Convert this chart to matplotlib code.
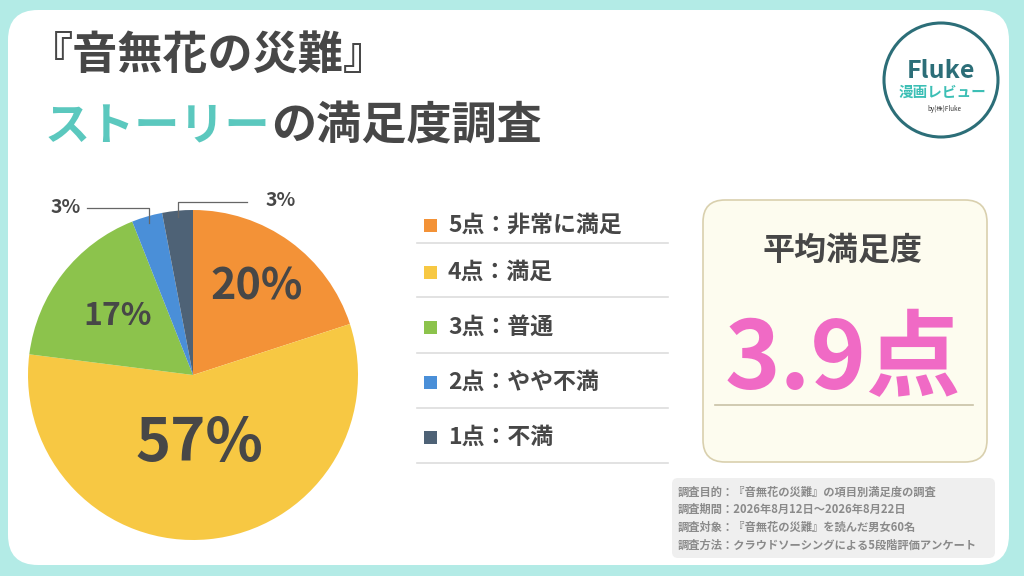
import matplotlib.pyplot as plt
import matplotlib.patches as patches
import numpy as np

plt.rcParams['font.family'] = ['Noto Sans CJK JP', 'DejaVu Sans']

# data
labels = ["5点：非常に満足", "4点：満足", "3点：普通", "2点：やや不満", "1点：不満"]
shares = [20, 57, 17, 3, 3]
colors = ['#F39237', '#F7C843', '#8CC34C', '#4A8FD8', '#4E6276']
avg_score = 3.9
info_lines = [
    "調査目的：『音無花の災難』の項目別満足度の調査",
    "調査期間：2026年8月12日～2026年8月22日",
    "調査対象：『音無花の災難』を読んだ男女60名",
    "調査方法：クラウドソーシングによる5段階評価アンケート",
]

dark = '#474747'
teal = '#5BC8BE'

fig = plt.figure(figsize=(10.24, 5.76), dpi=100)
fig.patch.set_facecolor('#B3EBE6')

# background canvas in pixel coords
bg = fig.add_axes([0, 0, 1, 1])
bg.set_xlim(0, 1024)
bg.set_ylim(576, 0)
bg.axis('off')

card = patches.FancyBboxPatch((8, 10), 1001, 555, boxstyle="round,pad=0,rounding_size=30",
                              fc='white', ec='none')
bg.add_patch(card)

# title
bg.text(28, 56, "『音無花の災難』", fontsize=32.5, fontweight='bold', color=dark,
        ha='left', va='center')
t1 = bg.text(45, 127, "ストーリー", fontsize=32.5, fontweight='bold', color=teal,
             ha='left', va='center')
fig.canvas.draw()
bb = t1.get_window_extent(fig.canvas.get_renderer())
x_end = bg.transData.inverted().transform((bb.x1, bb.y0))[0]
bg.text(x_end, 127, "の満足度調査", fontsize=32.5, fontweight='bold', color=dark,
        ha='left', va='center')

# logo
bg.add_patch(patches.Circle((941, 80), 57, fc='white', ec='#2C6E78', lw=2.2))
bg.text(941, 71, "Fluke", fontsize=18, fontweight='bold', color='#2C6E78', ha='center', va='center')
bg.text(942, 92, "漫画レビュー", fontsize=10.5, fontweight='bold', color='#3CBFB5', ha='center', va='center')
bg.text(944, 109, "by(株)Fluke", fontsize=4.5, color='#333333', ha='center', va='center')

# legend
row_y = [225, 272, 327, 382, 437]
line_y = [243, 297, 353, 408, 463]
for lab, col, ry, ly in zip(labels, colors, row_y, line_y):
    bg.add_patch(patches.Rectangle((424, ry - 6.5), 13, 13, fc=col, ec='none'))
    bg.text(448, ry, lab, fontsize=16.5, fontweight='bold', color=dark, ha='left', va='center')
    bg.plot([417, 668], [ly, ly], color='#DDDDDD', lw=1.2)

# average box
bg.add_patch(patches.FancyBboxPatch((703, 200), 284, 262, boxstyle="round,pad=0,rounding_size=22",
                                    fc='#FDFCEF', ec='#D9D0AE', lw=1.2))
bg.text(842, 251, "平均満足度", fontsize=23, fontweight='bold', color=dark, ha='center', va='center')
bg.text(843, 361, f"{avg_score}点", fontsize=68, fontweight='bold', color='#F06AC5',
        ha='center', va='center')
bg.plot([715, 973], [405, 405], color='#C9C2A6', lw=1.2)

# info box
bg.add_patch(patches.FancyBboxPatch((672, 478), 323, 80, boxstyle="round,pad=0,rounding_size=6",
                                    fc='#EFEFEF', ec='none'))
for i, line in enumerate(info_lines):
    bg.text(678, 492 + i * 17.7, line, fontsize=8.1, fontweight='bold', color='#8A8A8A',
            ha='left', va='center')

# pie
cx, cy, R = 193, 375, 165
lim = 1.2
side = 2 * lim * R
pax = fig.add_axes([(cx - side / 2) / 1024, (576 - cy - side / 2) / 576, side / 1024, side / 576])
wedges, _ = pax.pie(shares, colors=colors, startangle=90, counterclock=False,
                    wedgeprops=dict(linewidth=0))
pax.set_xlim(-lim, lim)
pax.set_ylim(-lim, lim)
pax.set_aspect('equal')
pax.axis('off')

inner_r = [0.66, 0.42, 0.58, None, None]
inner_fs = [31, 43, 23, None, None]
# leader settings for small slices: (elbow y, end x, label x)
leaders = [None, None, None, (1.01, -0.64, -0.77), (1.05, 0.33, 0.53)]
for w, v, r, fs, ld in zip(wedges, shares, inner_r, inner_fs, leaders):
    mid = np.deg2rad((w.theta1 + w.theta2) / 2)
    if ld is None:
        pax.text(r * np.cos(mid), r * np.sin(mid), f"{v}%", fontsize=fs, fontweight='bold',
                 color=dark, ha='center', va='center')
    else:
        ey, ex, lx = ld
        sx, sy = 0.96 * np.cos(mid), 0.96 * np.sin(mid)
        pax.plot([sx, sx, ex], [sy, ey, ey], color='#666666', lw=0.9, clip_on=False)
        pax.text(lx, ey + 0.005, f"{v}%", fontsize=14, fontweight='bold', color=dark,
                 ha='center', va='center', clip_on=False)

plt.savefig("out.png", dpi=100, facecolor=fig.get_facecolor())
plt.close()
